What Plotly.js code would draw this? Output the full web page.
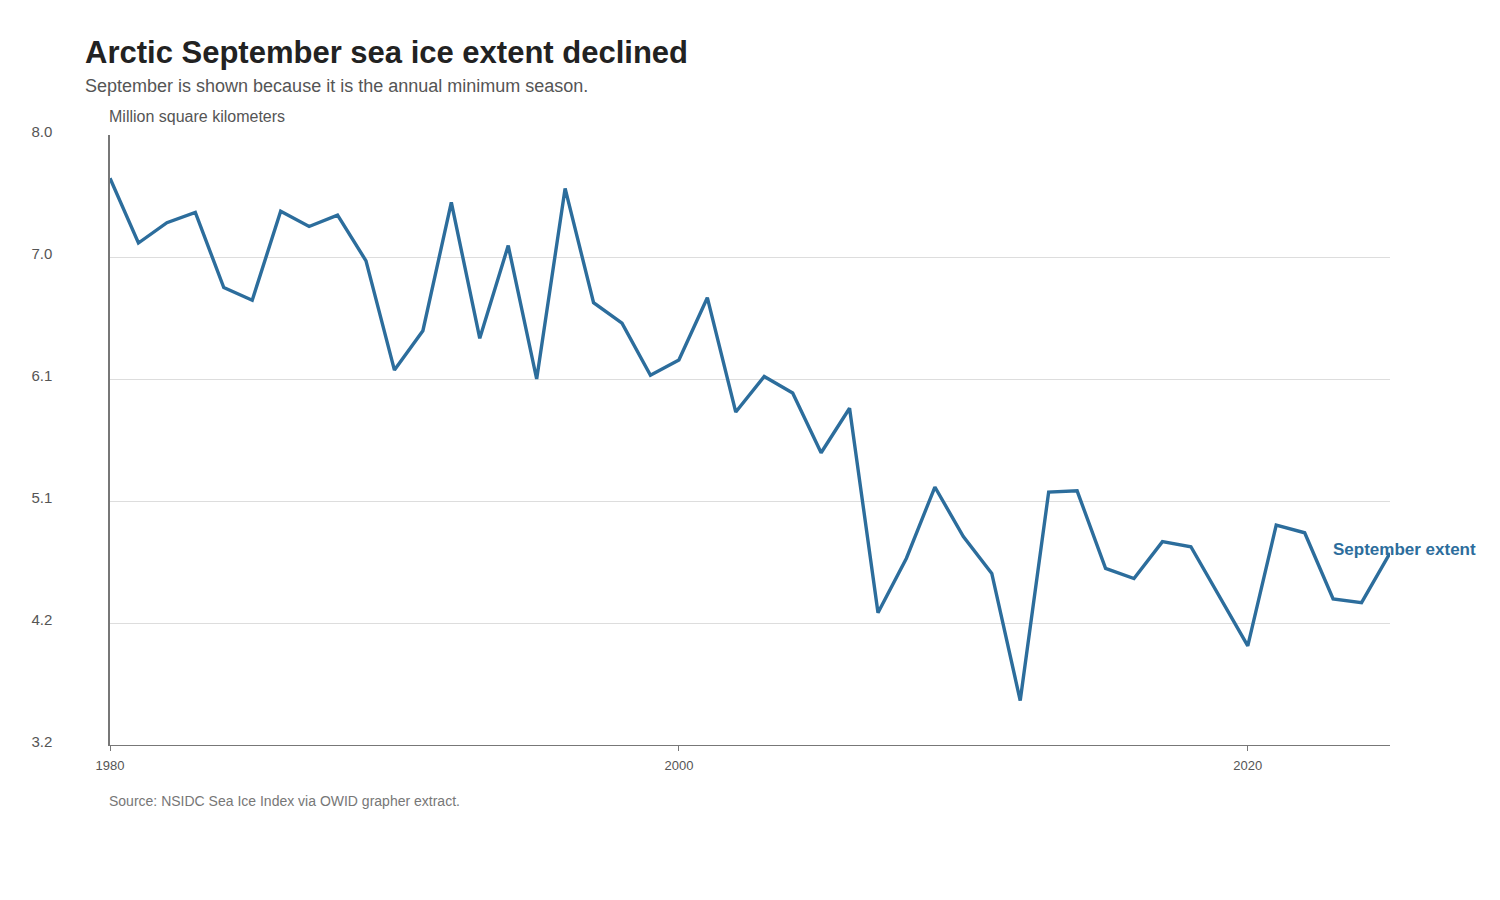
<!DOCTYPE html>
<html>
<head>
<meta charset="utf-8">
<script src="https://cdn.plot.ly/plotly-3.0.1.min.js"></script>
<style>
  html, body { margin: 0; padding: 0; background: #ffffff; }
  #chart { width: 1500px; height: 900px; }
</style>
</head>
<body>
<div id="chart"></div>
<script>
// September Arctic sea ice extent, million km²
const years = [
  1980, 1981, 1982, 1983, 1984, 1985, 1986, 1987, 1988, 1989,
  1990, 1991, 1992, 1993, 1994, 1995, 1996, 1997, 1998, 1999,
  2000, 2001, 2002, 2003, 2004, 2005, 2006, 2007, 2008, 2009,
  2010, 2011, 2012, 2013, 2014, 2015, 2016, 2017, 2018, 2019,
  2020, 2021, 2022, 2023, 2024, 2025
];
const extent = [
  7.66, 7.15, 7.31, 7.39, 6.80, 6.70, 7.40, 7.28, 7.37, 7.01,
  6.15, 6.46, 7.47, 6.40, 7.13, 6.08, 7.58, 6.68, 6.52, 6.11,
  6.23, 6.72, 5.82, 6.10, 5.97, 5.50, 5.85, 4.24, 4.67, 5.23,
  4.84, 4.55, 3.55, 5.19, 5.20, 4.59, 4.51, 4.80, 4.76, 4.37,
  3.98, 4.93, 4.87, 4.35, 4.32, 4.71
];
const yTickVals = [3.2, 4.16, 5.12, 6.08, 7.04, 8.0];
const yTickText = ['3.2', '4.2', '5.1', '6.1', '7.0', '8.0'];
const xTickVals = [1980, 2000, 2020];
const seriesName = 'September extent';

const lineColor = '#2c6d9c';
const font = 'Liberation Sans, Arial, sans-serif';

// Page geometry: plot area and helpers to place text in page pixels
const W = 1500, H = 900;
const M = { l: 110, r: 110, t: 135, b: 155 };
const plotW = W - M.l - M.r, plotH = H - M.t - M.b;
const px = x => (x - M.l) / plotW;
const py = y => (H - M.b - y) / plotH;

const trace = {
  x: years,
  y: extent,
  type: 'scatter',
  mode: 'lines',
  name: seriesName,
  line: { color: lineColor, width: 3.4 },
  hoverinfo: 'x+y'
};

// Left-aligned text block placed at a page pixel position
function pageText(text, x, y, size, color) {
  return {
    xref: 'paper', yref: 'paper',
    x: px(x), y: py(y),
    xanchor: 'left', yanchor: 'middle',
    xshift: -2,
    borderpad: 0,
    text: text,
    showarrow: false,
    font: { family: font, size: size, color: color }
  };
}

const layout = {
  width: W,
  height: H,
  paper_bgcolor: '#ffffff',
  plot_bgcolor: '#ffffff',
  showlegend: false,
  margin: M,
  font: { family: font, color: '#555555' },
  xaxis: {
    range: [1980, 2025],
    tickvals: xTickVals,
    ticks: 'outside',
    ticklen: 5,
    tickcolor: '#777777',
    tickfont: { size: 13, color: '#555555' },
    ticklabelstandoff: 3,
    showgrid: false,
    zeroline: false,
    showline: true,
    linecolor: '#777777',
    linewidth: 1.2
  },
  yaxis: {
    range: [3.2, 8.0],
    tickvals: yTickVals,
    ticktext: yTickText,
    ticks: '',
    tickfont: { size: 15, color: '#555555' },
    ticklabelstandoff: 53,
    ticklabelshift: -3,
    showgrid: true,
    gridcolor: '#dddddd',
    gridwidth: 1,
    zeroline: false,
    showline: true,
    linecolor: '#777777',
    linewidth: 1.6
  },
  annotations: [
    pageText('<b>Arctic September sea ice extent declined</b>', 86, 53, 31, '#222222'),
    pageText('September is shown because it is the annual minimum season.', 86, 86, 18, '#555555'),
    pageText('Million square kilometers', 110, 117, 16, '#555555'),
    pageText('Source: NSIDC Sea Ice Index via OWID grapher extract.', 110, 801, 14, '#777777'),
    {
      xref: 'x', yref: 'y',
      x: years[years.length - 1],
      y: extent[extent.length - 1],
      xanchor: 'left', yanchor: 'middle',
      xshift: -58, yshift: 4,
      borderpad: 0,
      text: '<b>' + seriesName + '</b>',
      showarrow: false,
      font: { family: font, size: 17, color: lineColor }
    }
  ]
};

Plotly.newPlot('chart', [trace], layout, { displayModeBar: false, staticPlot: true });
</script>
</body>
</html>
